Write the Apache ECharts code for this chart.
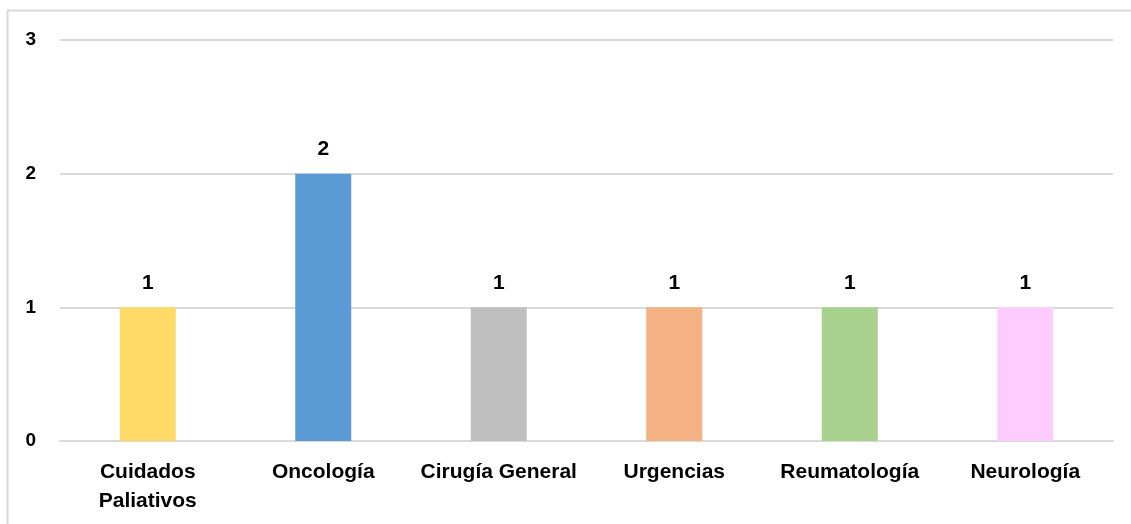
<!DOCTYPE html>
<html><head><meta charset="utf-8">
<script src="https://cdn.jsdelivr.net/npm/echarts@6/dist/echarts.min.js"></script>
<style>html,body{margin:0;padding:0;background:#fff}#c{width:1131px;height:524px}</style>
</head><body><div id="c"></div>
<script>
const categories = ['Cuidados\nPaliativos', 'Oncología', 'Cirugía General', 'Urgencias', 'Reumatología', 'Neurología'];
const values = [1, 2, 1, 1, 1, 1];
const barColors = ['#FFD966', '#5B9BD5', '#BFBFBF', '#F4B183', '#A9D18E', '#FFCCFF'];
const yTicks = [0, 1, 2, 3];

const chart = echarts.init(document.getElementById('c'), null, {renderer: 'canvas'});
const font = '"Liberation Sans", Arial, sans-serif';
chart.setOption({
  animation: false,
  graphic: [{type: 'rect', shape: {x: 7.5, y: 10.5, width: 1200, height: 600}, style: {fill: 'none', stroke: '#D9D9D9', lineWidth: 2}, silent: true}],
  grid: {left: 60, right: 18, top: 40, bottom: 83, containLabel: false},
  xAxis: {
    type: 'category', data: categories,
    axisLine: {show: true, lineStyle: {color: '#D9D9D9', width: 2}},
    axisTick: {show: false},
    axisLabel: {color: '#000', fontFamily: font, fontWeight: 'bold', fontSize: 21, margin: 17, lineHeight: 29, interval: 0}
  },
  yAxis: {
    type: 'value', min: yTicks[0], max: yTicks[yTicks.length - 1], interval: 1,
    axisLine: {show: false}, axisTick: {show: false},
    splitLine: {lineStyle: {color: '#D9D9D9', width: 2}},
    axisLabel: {color: '#000', fontFamily: font, fontWeight: 'bold', fontSize: 19, margin: 24, align: 'right'}
  },
  series: [{
    type: 'bar', barWidth: 56,
    data: values.map((v, i) => ({value: v, itemStyle: {color: barColors[i]}})),
    label: {show: true, position: 'top', distance: 14, color: '#000', fontFamily: font, fontWeight: 'bold', fontSize: 21}
  }]
});
</script></body></html>
